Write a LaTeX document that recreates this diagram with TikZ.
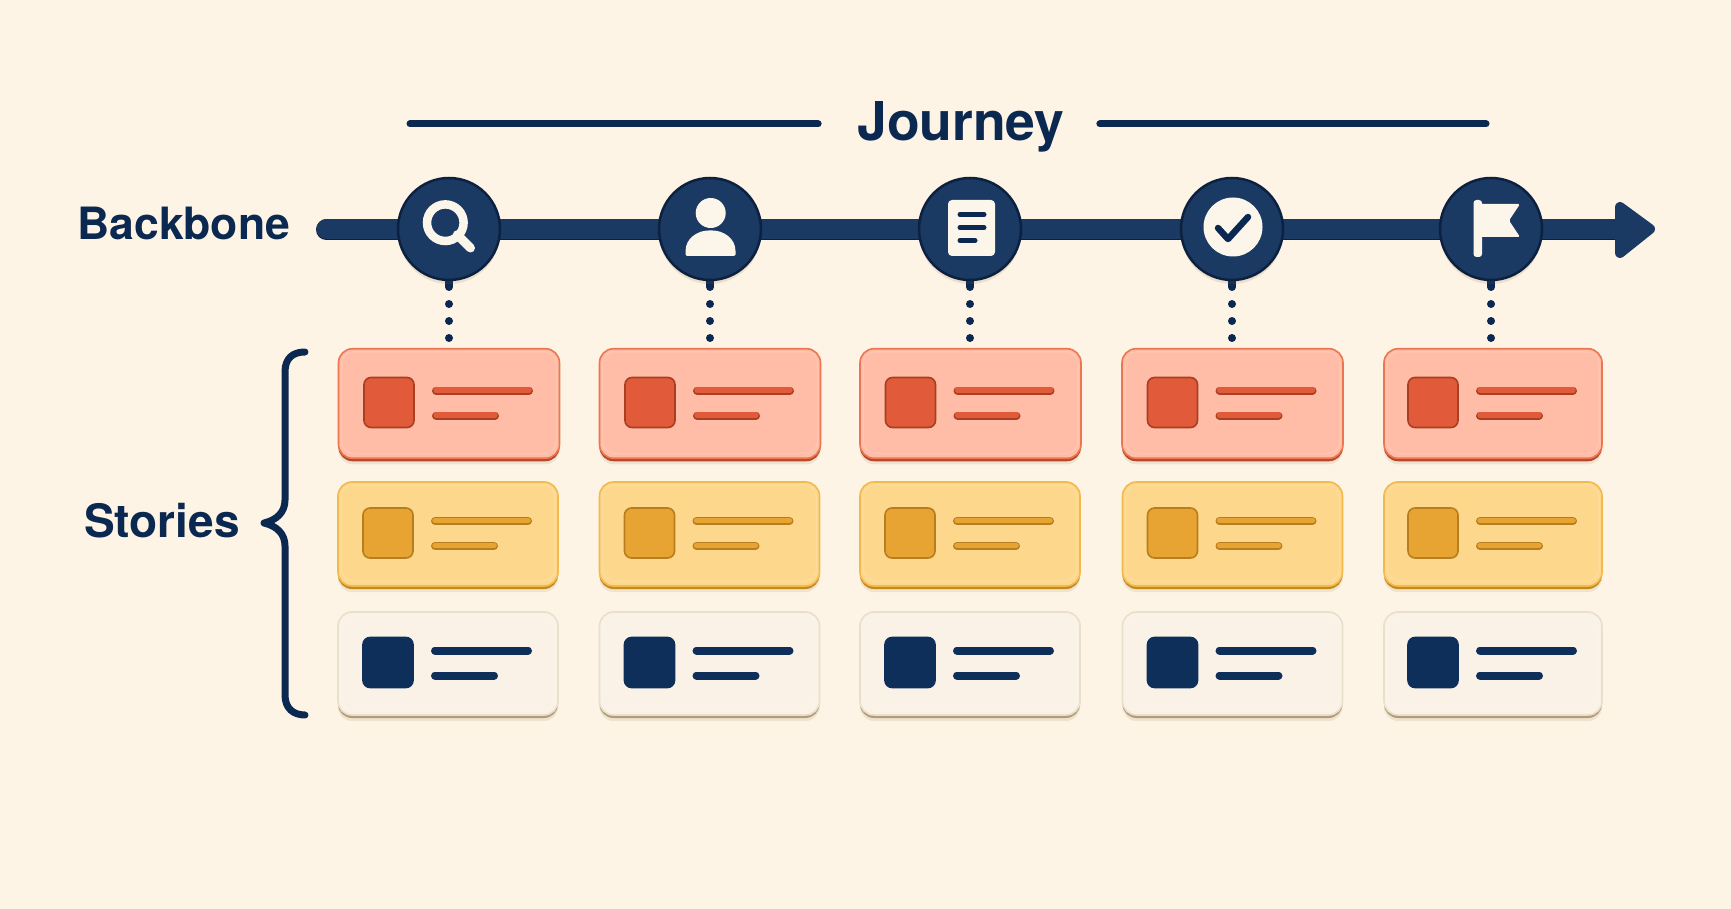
\documentclass[tikz,border=0pt]{standalone}
\usepackage{fontspec}
\setsansfont{TeX Gyre Heros}
\usetikzlibrary{shadows,backgrounds}
\definecolor{paper}{HTML}{FEF4E6}
\definecolor{navy}{HTML}{0B2850}
\definecolor{hubblue}{HTML}{1A3963}
\definecolor{hubedge}{HTML}{0C2140}
\definecolor{softshade}{HTML}{8A6A3C}
\definecolor{redfill}{HTML}{FFBCA6}
\definecolor{rededge}{HTML}{EC7650}
\definecolor{redbase}{HTML}{B5482A}
\definecolor{redmark}{HTML}{E15B3B}
\definecolor{redline}{HTML}{A83E22}
\definecolor{yellowfill}{HTML}{FDD78B}
\definecolor{yellowedge}{HTML}{F2B94C}
\definecolor{yellowbase}{HTML}{C48A1C}
\definecolor{yellowmark}{HTML}{E8A432}
\definecolor{yellowline}{HTML}{B67E1E}
\definecolor{creamfill}{HTML}{FAF2E6}
\definecolor{creamedge}{HTML}{EADFCB}
\definecolor{creambase}{HTML}{B39D79}
\definecolor{creammark}{HTML}{0E2F5A}
\definecolor{iconwhite}{HTML}{FCF6EA}
\tikzset{heading/.style = {font=\sffamily\bfseries\fontsize{44.5}{50}\selectfont,text=navy,inner sep=0pt}}
\tikzset{hub/.style = {shape=circle,draw=hubedge,line width=2.5pt,fill=hubblue,minimum size=102pt,inner sep=0pt,outer sep=0pt,
  general shadow={fill=softshade,opacity=.15,shadow yshift=-4pt}}}
\tikzset{rule/.style = {draw=navy,line width=7pt,line cap=round}}
\tikzset{backbone/.style = {draw=hubblue,line width=20pt}}
\tikzset{backshade/.style = {draw=hubedge,line width=21pt,line cap=round,transform canvas={yshift=-.8pt}}}
\tikzset{link/.style = {draw=navy,line width=8pt,line cap=round,dash pattern=on 7pt off 17pt on 0pt off 17pt on 0pt off 17pt on 0pt off 60pt}}
\tikzset{card/.style n args = {5}{shape=rectangle,rounded corners=14pt,draw=#2,line width=1.6pt,fill=#1,minimum width=220pt,inner sep=0pt,outer sep=0pt,
  general shadow={fill=softshade,opacity=.13,shadow yshift=-6pt},
  general shadow={fill=#3,shadow yshift=-3pt},
  path picture={
    \draw[white,opacity=.14,line width=1.5pt,rounded corners=12pt]
      ([shift={(3,3)}]path picture bounding box.north west) rectangle ([shift={(-3,-5)}]path picture bounding box.south east);
    \begin{scope}[shift={(path picture bounding box.center)}]
      \draw[draw=#5,line width=1.6pt,fill=#4,rounded corners=7pt] (-85,-26) rectangle (-35,24);
      \draw[#5,line width=8pt,line cap=round] (-13,-13) -- (80,-13);
      \draw[#4,line width=5.5pt,line cap=round] (-13,-13.5) -- (80,-13.5);
      \draw[#5,line width=8pt,line cap=round] (-13,12) -- (46,12);
      \draw[#4,line width=5.5pt,line cap=round] (-13,11.5) -- (46,11.5);
    \end{scope}
  }}}
\tikzset{redcard/.style = {card={redfill}{rededge}{redbase}{redmark}{redline},minimum height=109.5pt,minimum width=221pt}}
\tikzset{yellowcard/.style = {card={yellowfill}{yellowedge}{yellowbase}{yellowmark}{yellowline},minimum height=104pt}}
\tikzset{creamcard/.style = {card={creamfill}{creamedge}{creambase}{creammark}{creammark},minimum height=103pt}}
\tikzset{iconfill/.style = {fill=iconwhite,draw=none}}
\tikzset{iconink/.style = {draw=navy,line cap=round,line join=round}}

\begin{document}
\begin{tikzpicture}[x=1pt,y=-1pt]
          \useasboundingbox (0,0) rectangle (1731,909);

          \node[heading,anchor=base,font=\sffamily\bfseries\fontsize{53.5}{60}\selectfont] (Journey) at (961,141) {Journey};
          \node[heading,anchor=base west] (Backbone) at (77,240) {Backbone};
          \node[heading,anchor=base west,font=\sffamily\bfseries\fontsize{46}{50}\selectfont] (Stories) at (84,537) {Stories};

          \coordinate (JourneyStart) at (410,124);
          \coordinate (JourneyEnd) at (1486,124);
          \coordinate (BackStart) at (326.5,229);
          \coordinate (BackHead) at (1625,229);

          \node[hub] (Search) at (449,229) {};
          \node[hub] (Profile) at (710,229) {};
          \node[hub] (Document) at (970,229) {};
          \node[hub] (Check) at (1232,229) {};
          \node[hub] (Flag) at (1491,229) {};

          \node[redcard] (RedA) at (449,403.5) {};
          \node[redcard] (RedB) at (710,403.5) {};
          \node[redcard] (RedC) at (970.5,403.5) {};
          \node[redcard] (RedD) at (1232.5,403.5) {};
          \node[redcard,minimum width=218pt] (RedE) at (1493,403.5) {};

          \node[yellowcard] (YellowA) at (448,534) {};
          \node[yellowcard] (YellowB) at (709.5,534) {};
          \node[yellowcard] (YellowC) at (970,534) {};
          \node[yellowcard] (YellowD) at (1232.5,534) {};
          \node[yellowcard,minimum width=218pt] (YellowE) at (1493,534) {};

          \node[creamcard] (CreamA) at (448,663.5) {};
          \node[creamcard] (CreamB) at (709.5,663.5) {};
          \node[creamcard] (CreamC) at (970,663.5) {};
          \node[creamcard] (CreamD) at (1232.5,663.5) {};
          \node[creamcard,minimum width=218pt] (CreamE) at (1493,663.5) {};

          \path[rule] (JourneyStart) edge ([xshift=-39pt]Journey.west |- JourneyStart);
          \path[rule] ([xshift=35pt]Journey.east |- JourneyEnd) edge (JourneyEnd);

          \begin{scope}[on background layer]
            \fill[paper] (0,0) rectangle (1731,909);
            \path[backshade] (BackStart) edge (BackHead);
            \path[backbone,line cap=round] (BackStart) edge (Search);
            \path[backbone] (Search) edge (Profile);
            \path[backbone] (Profile) edge (Document);
            \path[backbone] (Document) edge (Check);
            \path[backbone] (Check) edge (Flag);
            \path[backbone] (Flag) edge (BackHead);
            \filldraw[fill=hubblue,draw=hubblue,line width=10pt,line join=round]
              (1620,207) -- (1650,229) -- (1620,253) -- cycle;

            \path[link] (Search.south) edge (Search.south |- RedA.north);
            \path[link] (Profile.south) edge (Profile.south |- RedB.north);
            \path[link] (Document.south) edge (Document.south |- RedC.north);
            \path[link] (Check.south) edge (Check.south |- RedD.north);
            \path[link] (Flag.south) edge (Flag.south |- RedE.north);
          \end{scope}

          \draw[draw=navy,line width=7pt,line cap=round,line join=round] (305,352) .. controls (293,352) and (285,358) .. (285,372) -- (285,500)
            .. controls (285,512) and (277,520) .. (264,523) .. controls (277,526) and (285,534) .. (285,546) -- (285,695)
            .. controls (285,708) and (293,715) .. (305,715);

          \begin{scope}[shift={(Search)}]
            \draw[draw=iconwhite,line width=8.5pt] (-3.7,-6.3) circle (18.3);
            \draw[draw=iconwhite,line width=9pt,line cap=round] (8.3,5.7) -- (21.5,19);
          \end{scope}
          \begin{scope}[shift={(Profile)}]
            \fill[iconfill] (0.7,-16) circle (15);
            \fill[iconfill,rounded corners=2pt] (-24.5,27) -- (-24.5,24) .. controls (-24.5,9) and (-12,1.5) .. (0.5,1.5)
              .. controls (13,1.5) and (25.5,9) .. (25.5,24) -- (25.5,27) -- cycle;
          \end{scope}
          \begin{scope}[shift={(Document)}]
            \fill[iconfill,rounded corners=4pt] (-22,-29) rectangle (25,27);
            \draw[iconink,line width=5pt] (-10,-14.5) -- (14,-14.5);
            \draw[iconink,line width=5pt] (-10,-1.5) -- (14,-1.5);
            \draw[iconink,line width=5pt] (-10,11.5) -- (5,11.5);
          \end{scope}
          \begin{scope}[shift={(Check)}]
            \fill[iconfill] (1,-2) circle (29.5);
            \draw[iconink,line width=6.5pt] (-14,-1) -- (-4,10) -- (16,-12);
          \end{scope}
          \begin{scope}[shift={(Flag)}]
            \fill[iconfill,rounded corners=3pt] (-17.5,-29) rectangle (-9,28);
            \fill[iconfill,rounded corners=1.5pt] (-12,-25) -- (29,-25) -- (18,-8.5) -- (29,8) -- (-12,8) -- cycle;
          \end{scope}
        \end{tikzpicture}
\end{document}
